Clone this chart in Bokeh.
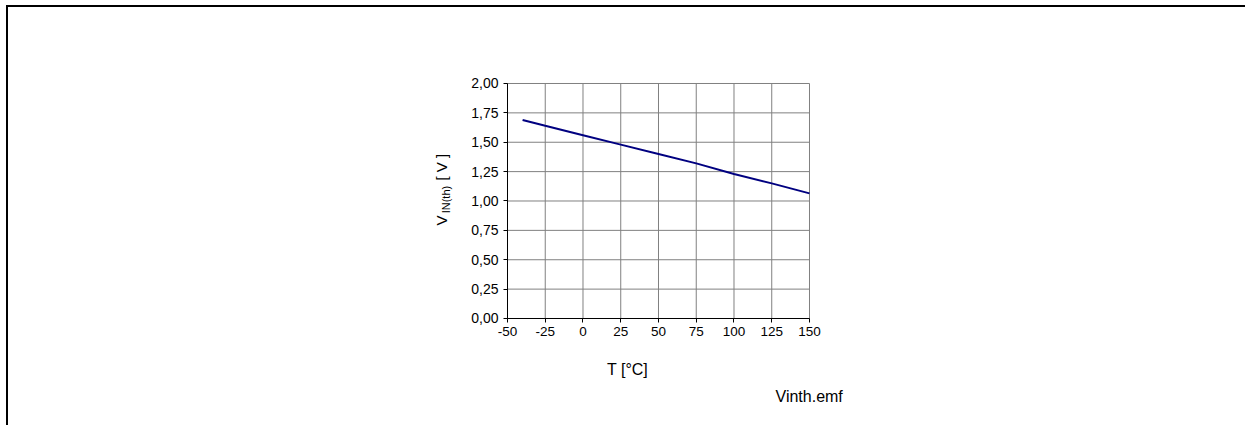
import math
from bokeh.plotting import figure
from bokeh.models import Range1d, FixedTicker
from bokeh.core.properties import value
from bokeh.embed import file_html
from bokeh.resources import INLINE

# data
temps = [-40, -25, 0, 25, 50, 75, 100, 125, 150]
vth = [1.69, 1.64, 1.56, 1.48, 1.40, 1.32, 1.23, 1.15, 1.065]

x_ticks = [-50, -25, 0, 25, 50, 75, 100, 125, 150]
x_tick_labels = ["-50", "-25", "0", "25", "50", "75", "100", "125", "150"]
y_ticks = [0, 0.25, 0.5, 0.75, 1.0, 1.25, 1.5, 1.75, 2.0]
y_tick_labels = ["0,00", "0,25", "0,50", "0,75", "1,00", "1,25", "1,50", "1,75", "2,00"]

x_min, x_max = -50, 150
y_min, y_max = 0, 2

FONT = "Liberation Sans"

# frame covers the whole canvas; the ranges place the chart box where it sits in the reference
p = figure(width=1239, height=420, output_backend="svg", toolbar_location=None,
           x_range=Range1d(-380.46, 440.07), y_range=Range1d(-0.92766, 2.6468),
           min_border=0)
p.styles = {"margin-left": "6px", "margin-top": "5px",
            "border-top": "2px solid black", "border-left": "2px solid black"}
p.outline_line_color = None
p.grid.visible = False
p.background_fill_color = "white"
p.border_fill_color = "white"

# grid lines of the chart box
p.segment(x0=x_ticks, y0=[y_min] * len(x_ticks), x1=x_ticks, y1=[y_max] * len(x_ticks),
          line_color="#808080", line_width=1)
p.segment(x0=[x_min] * len(y_ticks), y0=y_ticks, x1=[x_max] * len(y_ticks), y1=y_ticks,
          line_color="#808080", line_width=1)

p.line(temps, vth, line_color="#000080", line_width=2)

p.xaxis.fixed_location = y_min
p.xaxis.bounds = (x_min, x_max)
p.yaxis.fixed_location = x_min
p.yaxis.bounds = (y_min, y_max)
for ax, ticks, labels in ((p.xaxis[0], x_ticks, x_tick_labels), (p.yaxis[0], y_ticks, y_tick_labels)):
    ax.ticker = FixedTicker(ticks=ticks)
    ax.major_label_overrides = {t: l for t, l in zip(ticks, labels)}
    ax.minor_tick_line_color = None
    ax.major_tick_in = 0
    ax.major_tick_out = 4
    ax.axis_line_color = "black"
    ax.major_tick_line_color = "black"
    ax.major_label_text_font = FONT
    ax.major_label_text_color = "black"
p.xaxis.major_label_text_font_size = "13.5px"
p.yaxis.major_label_text_font_size = "14px"
p.xaxis.major_label_standoff = 5
p.yaxis.major_label_standoff = 5


def txt(x, y, text, size, align="left", angle=0.0):
    p.text(x=[x], y=[y], text=[text], angle=angle, text_font=value(FONT),
           text_font_size=value(size), text_align=align, text_baseline="alphabetic",
           text_color="black")


# y-axis title: V_IN(th) [ V ]
txt(-93.7, 0.792, "V", "15px", angle=math.pi / 2)
txt(-91.0, 0.895, "IN(th)", "11px", angle=math.pi / 2)
txt(-93.7, 1.174, "[ V ]", "15px", angle=math.pi / 2)
# x-axis title
txt(29.5, -0.434, "T [°C]", "16px", align="center")
# file note
txt(127.5, -0.663, "Vinth.emf", "16px")

open("out.html", "w").write(file_html(p, INLINE))
